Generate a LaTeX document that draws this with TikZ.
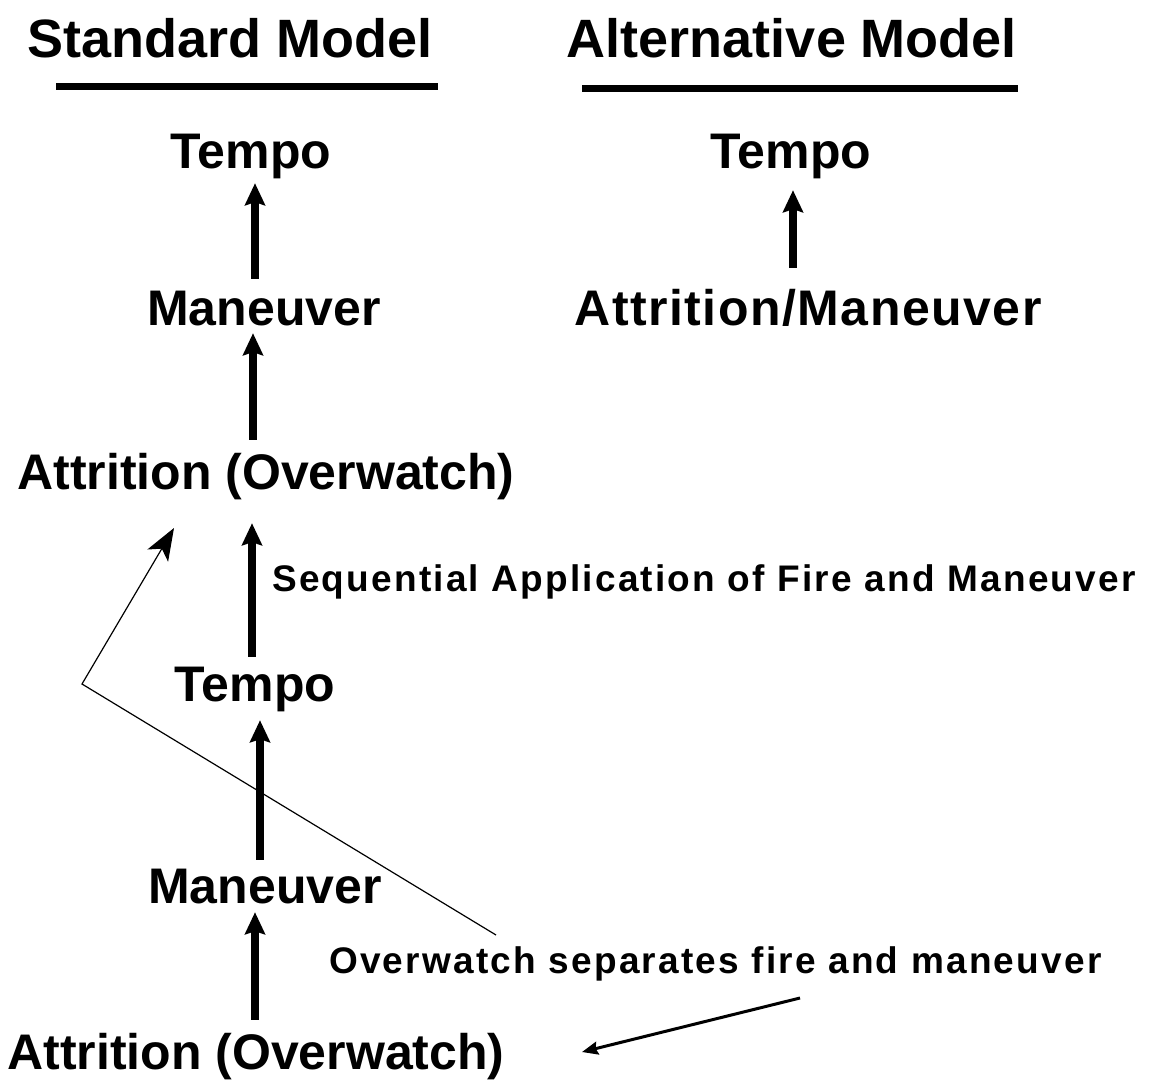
\documentclass[tikz,border=0pt]{standalone}
\usepackage{fontspec}
\setmainfont{Liberation Sans}
\newfontfamily\spaced[LetterSpace=6]{Liberation Sans}
\newfontfamily\lightspaced[LetterSpace=3]{Liberation Sans}
\usetikzlibrary{arrows.meta}
\begin{document}
\begin{tikzpicture}[x=1pt,y=-1pt,
  lab/.style={font=\fontsize{50}{50}\selectfont\bfseries, inner sep=0pt, text height=36pt, text depth=0pt, anchor=base},
  hdr/.style={font=\fontsize{54}{54}\selectfont\bfseries, inner sep=0pt, anchor=base},
  note/.style={font=\spaced\fontsize{37}{37}\selectfont\bfseries, inner sep=0pt, anchor=base west},
  big/.style={line width=8pt, -{Stealth[length=22pt,width=20pt,inset=3pt]}},
  thinline/.style={line width=1.2pt},
  uline/.style={line width=7pt}]
\useasboundingbox (0,0) rectangle (1168,1090);
% headers
\node[hdr] (H1) at (230,57) {Standard Model};
\node[hdr] (H2) at (792,57) {Alternative Model};
\coordinate (u1a) at (56,86); \coordinate (u1b) at (438,86);
\coordinate (u2a) at (582,88); \coordinate (u2b) at (1018,88);
\draw[uline] (u1a) -- (u1b);
\draw[uline] (u2a) -- (u2b);
% standard model column
\node[lab] (T1) at (251,168) {Tempo};
\node[lab] (M1) at (264,325) {Maneuver};
\node[lab] (A1) at (266,489) {Attrition (Overwatch)};
\node[lab] (T2) at (255,701) {Tempo};
\node[lab] (M2) at (265,903) {Maneuver};
\node[lab] (A2) at (256,1069) {Attrition (Overwatch)};
% alternative model column
\node[lab] (T3) at (791,168) {Tempo};
\node[lab, font=\lightspaced\fontsize{50}{50}\selectfont\bfseries] (AM) at (808,325) {Attrition/Maneuver};
% notes
\node[note] (SEQ) at (272,591) {Sequential Application of Fire and Maneuver};
\node[note] (OW) at (329,973) {Overwatch separates fire and maneuver};
% thick arrows
\draw[big, shorten <=10pt, shorten >=15pt] ([xshift=-9pt]M1.north) -- ([xshift=4pt]T1.south);
\draw[big, shorten <=13pt, shorten >=8pt] ([xshift=-13pt]A1.north) -- ([xshift=-11pt]M1.south);
\draw[big, shorten <=8pt, shorten >=34pt] ([xshift=-3pt]T2.north) -- ([xshift=-14pt]A1.south);
\draw[big, shorten <=7pt, shorten >=19pt] ([xshift=-5pt]M2.north) -- ([xshift=5pt]T2.south);
\draw[big, shorten <=13pt, shorten >=9pt] ([xshift=-1pt]A2.north) -- ([xshift=-10pt]M2.south);
\draw[big, shorten <=21pt, shorten >=22pt] ([xshift=-15pt]AM.north) -- ([xshift=2pt]T3.south);
% overwatch pointer lines
\coordinate (ct) at (496,935);
\coordinate (bend) at (82,684);
\coordinate (tipA) at (174,528);
\draw[thinline, -{Stealth[length=32pt,width=24pt,inset=8pt]}] (ct) -- (bend) -- (tipA);
\coordinate (os) at (800,998);
\coordinate (a2t) at (582,1052);
\draw[line width=3pt, -{Stealth[length=16pt,width=13pt,inset=2pt]}] (os) -- (a2t);
\end{tikzpicture}
\end{document}
